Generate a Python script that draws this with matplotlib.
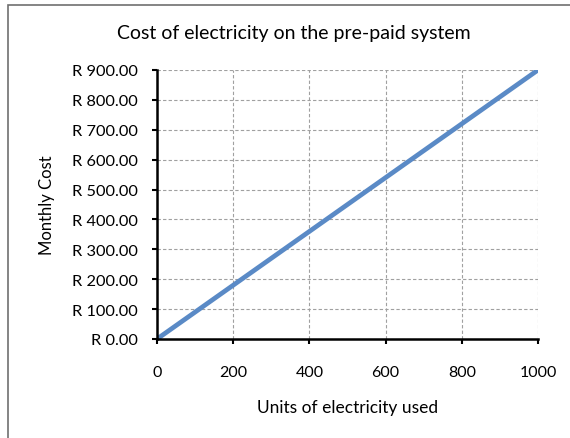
import matplotlib.pyplot as plt
from matplotlib.patches import Rectangle
from matplotlib.ticker import FuncFormatter

# Units used and what they cost on the pre-paid system
units = [0, 100, 200, 300, 400, 500, 600, 700, 800, 900, 1000]
cost = [0, 90, 180, 270, 360, 450, 540, 630, 720, 810, 900]

plt.rcParams['font.family'] = ['Lato', 'DejaVu Sans']

fig = plt.figure(figsize=(5.7, 4.39), dpi=100)
fig.patches.append(Rectangle((8 / 570, -0.05), 1.0, 1 - 6 / 439 + 0.05,
                             transform=fig.transFigure, fill=False,
                             edgecolor='#6f6f6f', linewidth=1.2))

ax = fig.add_axes([157 / 570, 99 / 439, 381 / 570, 269 / 439])
ax.plot(units, cost, color='#5a8ac6', linewidth=3.4, solid_capstyle='butt')

ax.set_xlim(0, 1000)
ax.set_ylim(0, 900)
ax.set_xticks(range(0, 1001, 200))
ax.set_yticks(range(0, 901, 100))
ax.yaxis.set_major_formatter(FuncFormatter(lambda v, p: f'R {v:.2f}'))

ax.grid(True, color='#a0a0a0', linestyle=(0, (3, 2)), linewidth=0.8)
for s in ['top', 'right']:
    ax.spines[s].set_visible(False)
for s in ['left', 'bottom']:
    ax.spines[s].set_linewidth(1.8)
ax.tick_params(direction='out', length=3.8, width=1.5, colors='black')
ax.tick_params(axis='x', pad=15, labelsize=11.5)
ax.tick_params(axis='y', pad=10, labelsize=11.8)

fig.text(294 / 570, 1 - 33 / 439, 'Cost of electricity on the pre-paid system',
         fontsize=14, ha='center', va='center')
ax.set_xlabel('Units of electricity used', fontsize=12.5, labelpad=14)
ax.set_ylabel('Monthly Cost', fontsize=12, labelpad=14)
ax.yaxis.set_label_coords(-102 / 381, 0.5)

fig.savefig('out.png', dpi=100)
